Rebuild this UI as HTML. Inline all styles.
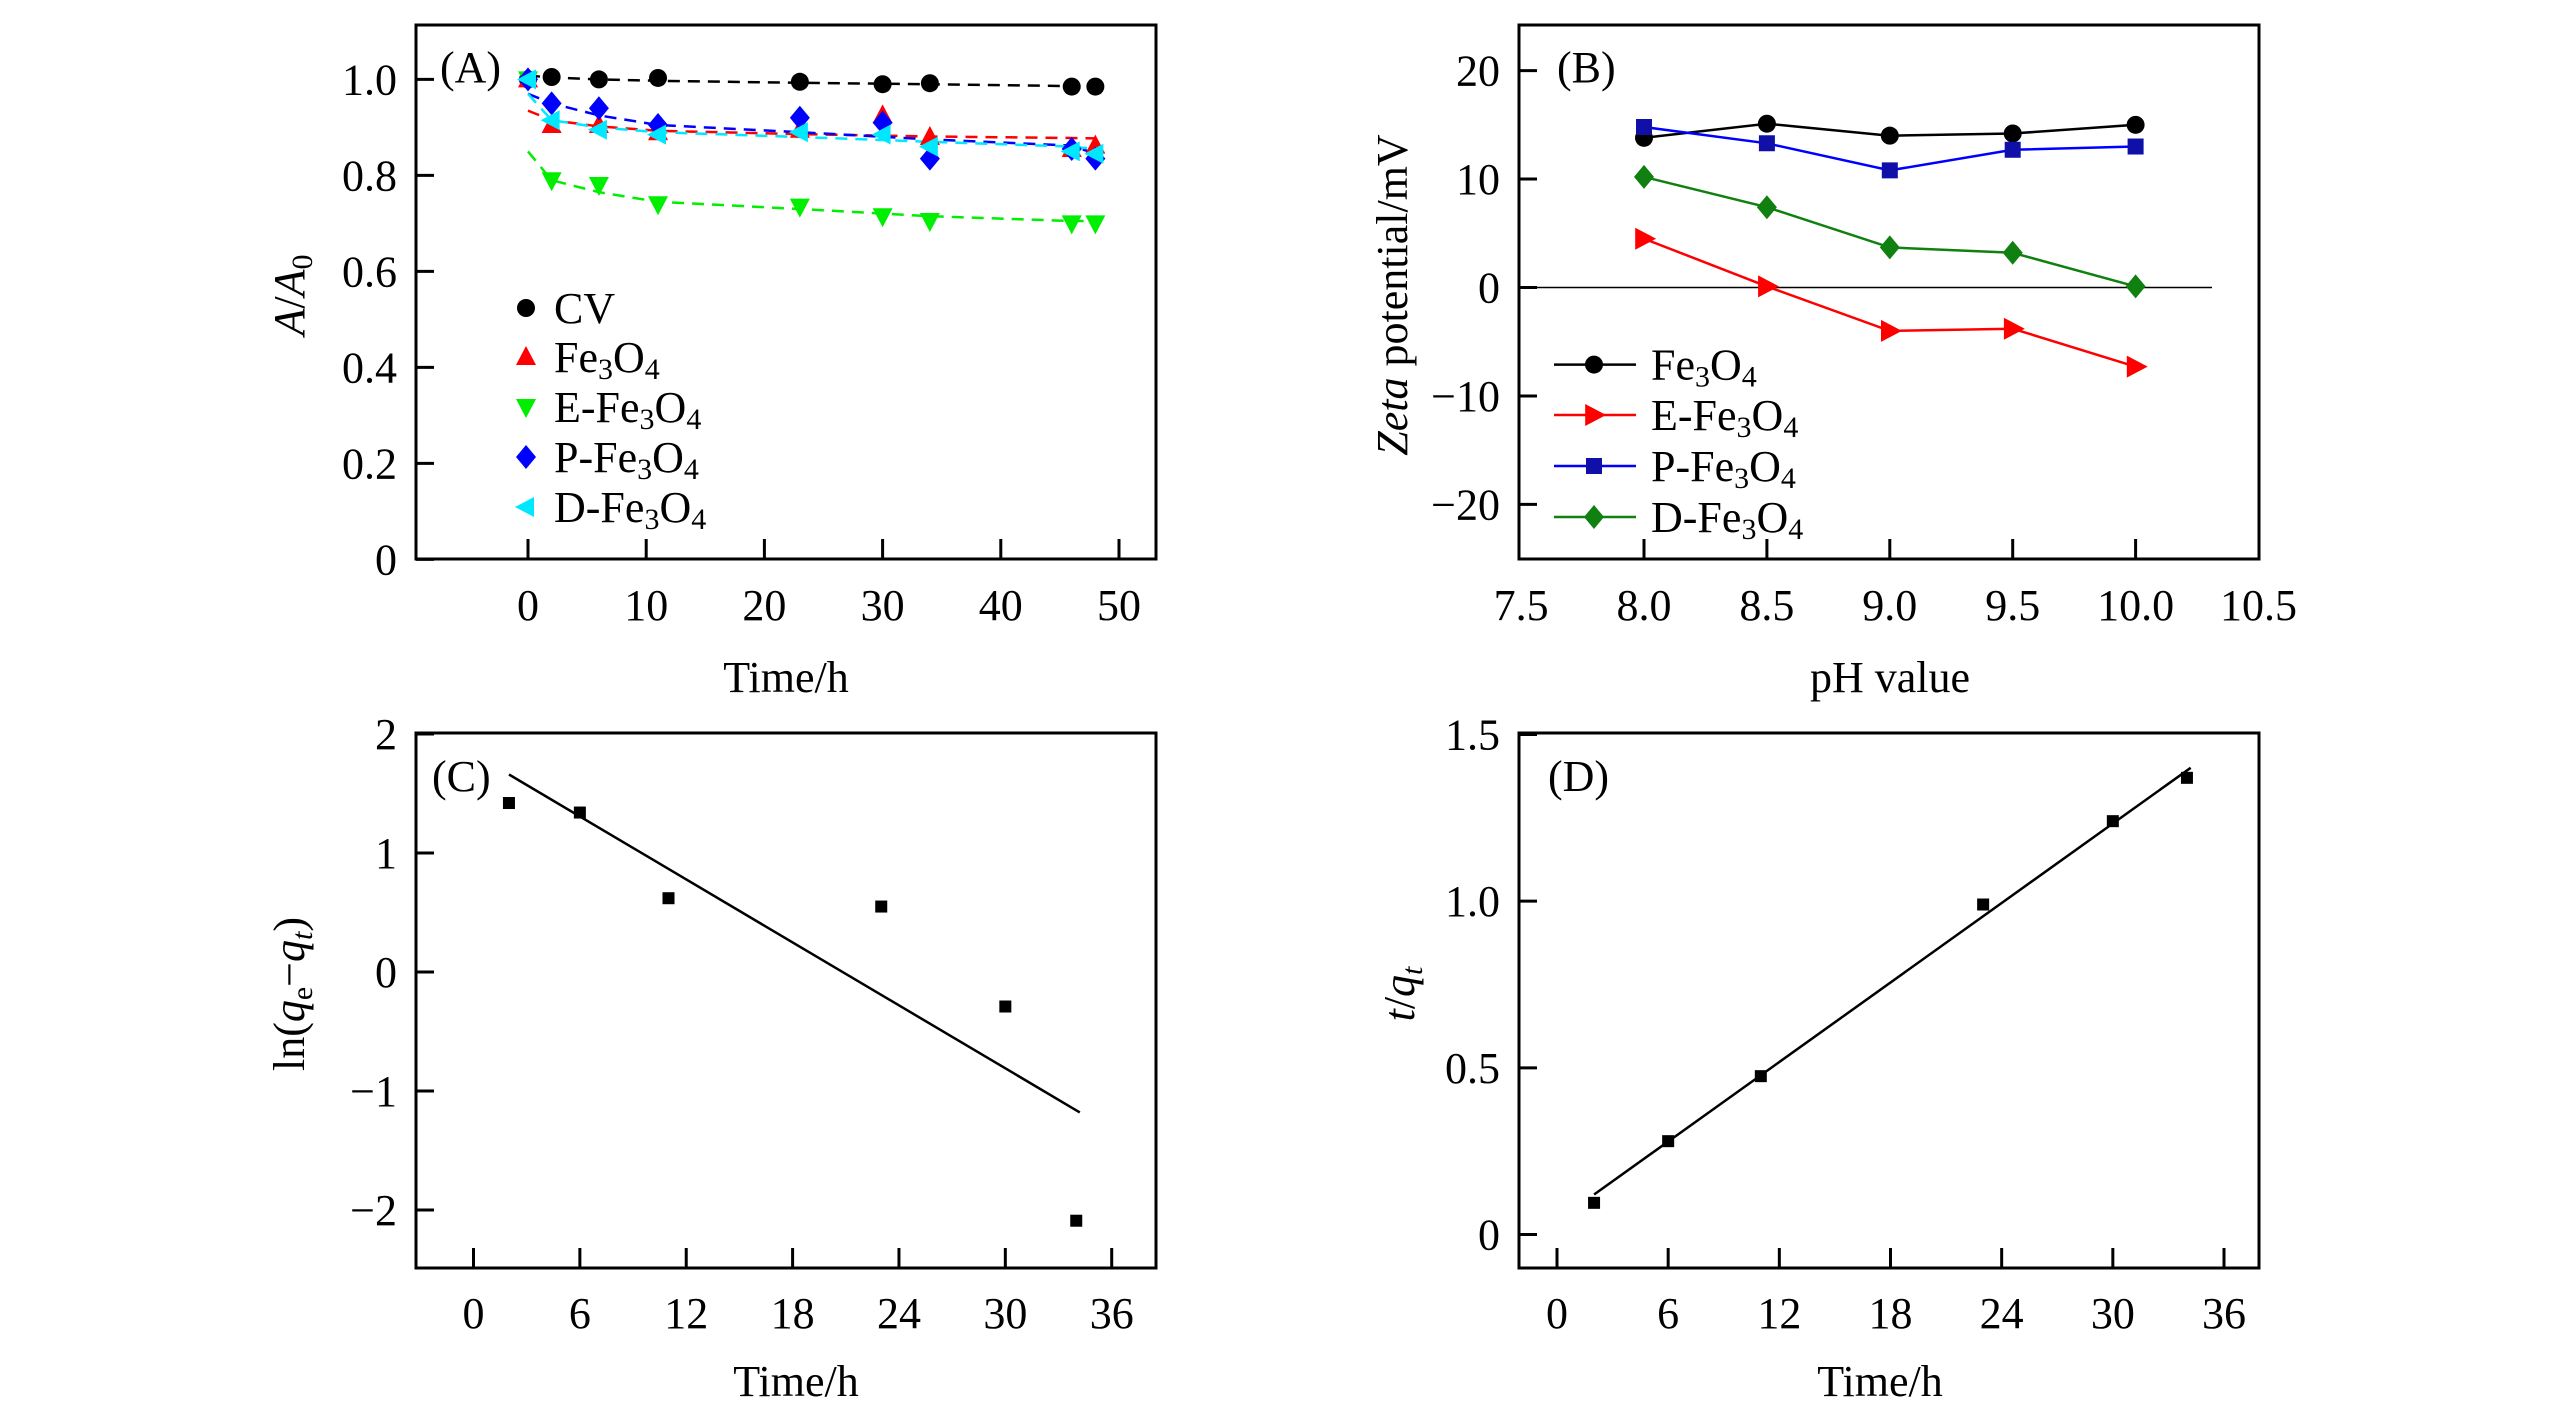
<!DOCTYPE html>
<html><head><meta charset="utf-8">
<style>
html,body{margin:0;padding:0;background:#fff;}
svg{display:block;font-family:"Liberation Serif","Times New Roman",serif;}
</style></head>
<body>
<svg id="fig" width="2567" height="1417" viewBox="0 0 2567 1417" xmlns="http://www.w3.org/2000/svg"></svg>
<script>
// ---------- Panel A data ----------
const aTime = [0, 2, 6, 11, 23, 30, 34, 46, 48];
const aCV   = [1.0, 1.005, 1.0, 1.003, 0.995, 0.99, 0.992, 0.985, 0.985];
const aFe   = [1.0, 0.905, 0.905, 0.89, 0.895, 0.925, 0.88, 0.855, 0.862];
const aE    = [1.0, 0.79, 0.78, 0.74, 0.735, 0.715, 0.705, 0.70, 0.70];
const aP    = [1.0, 0.95, 0.94, 0.905, 0.92, 0.91, 0.835, 0.855, 0.835];
const aD    = [1.0, 0.915, 0.895, 0.885, 0.89, 0.885, 0.86, 0.85, 0.845];
const aFitT   = [0, 2, 6, 11, 23, 34, 46, 48];
const aFitCV  = [1.008, 1.004, 1.0, 0.997, 0.993, 0.99, 0.986, 0.985];
const aFitFe  = [0.935, 0.915, 0.902, 0.893, 0.886, 0.881, 0.878, 0.877];
const aFitE   = [0.85, 0.79, 0.765, 0.745, 0.73, 0.715, 0.705, 0.705];
const aFitP   = [0.97, 0.95, 0.925, 0.905, 0.89, 0.875, 0.862, 0.845];
const aFitD   = [0.97, 0.915, 0.9, 0.89, 0.88, 0.87, 0.86, 0.855];
const aXTicks = [0, 10, 20, 30, 40, 50];
const aYTicks = [0, 0.2, 0.4, 0.6, 0.8, 1.0];
const aYLabels = ["0", "0.2", "0.4", "0.6", "0.8", "1.0"];
// ---------- Panel B data ----------
const bPH  = [8.0, 8.5, 9.0, 9.5, 10.0];
const bFe  = [13.8, 15.1, 14.0, 14.2, 15.0];
const bE   = [4.5, 0.1, -4.0, -3.8, -7.3];
const bP   = [14.8, 13.3, 10.8, 12.7, 13.0];
const bD   = [10.2, 7.4, 3.7, 3.2, 0.1];
const bXTicks = [8.0, 8.5, 9.0, 9.5, 10.0];
const bXLabels = ["7.5", "8.0", "8.5", "9.0", "9.5", "10.0", "10.5"];
const bXLabelVals = [7.5, 8.0, 8.5, 9.0, 9.5, 10.0, 10.5];
const bYTicks = [-20, -10, 0, 10, 20];
const bYLabels = ["\u221220", "\u221210", "0", "10", "20"];
// ---------- Panel C data ----------
const cTime = [2, 6, 11, 23, 30, 34];
const cVal  = [1.42, 1.34, 0.62, 0.55, -0.29, -2.09];
const cFitT = [2, 34.2];
const cFitV = [1.66, -1.18];
const cXTicks = [0, 6, 12, 18, 24, 30, 36];
const cYTicks = [-2, -1, 0, 1, 2];
const cYLabels = ["\u22122", "\u22121", "0", "1", "2"];
// ---------- Panel D data ----------
const dTime = [2, 6, 11, 23, 30, 34];
const dVal  = [0.095, 0.28, 0.475, 0.99, 1.24, 1.37];
const dFitT = [2, 34.2];
const dFitV = [0.12, 1.40];
const dXTicks = [0, 6, 12, 18, 24, 30, 36];
const dYTicks = [0, 0.5, 1.0, 1.5];
const dYLabels = ["0", "0.5", "1.0", "1.5"];

const NS = "http://www.w3.org/2000/svg";
const svg = document.getElementById("fig");
function el(tag, attrs, parent, text){
  const e = document.createElementNS(NS, tag);
  for (const k in attrs) e.setAttribute(k, attrs[k]);
  if (text !== undefined) e.textContent = text;
  (parent || svg).appendChild(e);
  return e;
}
function lin(d0, d1, r0, r1){ return v => r0 + (v - d0) * (r1 - r0) / (d1 - d0); }

function frame(g, x0, y0, x1, y1){
  const r = el("rect", {x:x0, y:y0, width:x1-x0, height:y1-y0, fill:"none", stroke:"#000", "stroke-width":3}, g);
  
  
}
function xAxis(g, ticks, labels, labelVals, X, yb, drawTicks, labelY){
  ticks.forEach(t => {
    const l = el("line", {x1:X(t), x2:X(t), y1:yb, y2:yb-20, stroke:"#000", "stroke-width":3}, g);
    
    
  });
  labelVals.forEach((v, i) => {
    const t = el("text", {x:X(v), y:labelY, "font-size":44, "text-anchor":"middle"}, g, labels[i]);
    
    
  });
}
function yAxis(g, ticks, labels, Y, xl, labelX){
  ticks.forEach((t, i) => {
    const l = el("line", {x1:xl, x2:xl+18, y1:Y(t), y2:Y(t), stroke:"#000", "stroke-width":3}, g);
    
    
    const tx = el("text", {x:labelX, y:Y(t)+15, "font-size":44, "text-anchor":"end"}, g, labels[i]);
    
    
  });
}
function pathD(xs, ys, X, Y){ return xs.map((x,i)=>(i?"L":"M")+X(x).toFixed(1)+","+Y(ys[i]).toFixed(1)).join(""); }
function marker(g, type, cx, cy, color, s){
  let e;
  if (type==="circle") e = el("circle", {cx, cy, r:s, fill:color}, g);
  else if (type==="square") e = el("rect", {x:cx-s, y:cy-s, width:2*s, height:2*s, fill:color}, g);
  else if (type==="up") e = el("polygon", {points:`${cx},${cy-s*1.1} ${cx-s},${cy+s*0.8} ${cx+s},${cy+s*0.8}`, fill:color}, g);
  else if (type==="down") e = el("polygon", {points:`${cx},${cy+s*1.1} ${cx-s},${cy-s*0.8} ${cx+s},${cy-s*0.8}`, fill:color}, g);
  else if (type==="diamond") e = el("polygon", {points:`${cx},${cy-s*1.2} ${cx+s},${cy} ${cx},${cy+s*1.2} ${cx-s},${cy}`, fill:color}, g);
  else if (type==="left") e = el("polygon", {points:`${cx-s*1.1},${cy} ${cx+s*0.8},${cy-s} ${cx+s*0.8},${cy+s}`, fill:color}, g);
  else if (type==="right") e = el("polygon", {points:`${cx+s*1.1},${cy} ${cx-s*0.8},${cy-s} ${cx-s*0.8},${cy+s}`, fill:color}, g);
  return e;
}
function feText(g, x, y, prefix, name){
  const t = el("text", {x, y, "font-size":44}, g);
  
  
  el("tspan", {}, t, prefix + "Fe");
  el("tspan", {"font-size":30, dy:7}, t, "3");
  el("tspan", {dy:-7}, t, "O");
  el("tspan", {"font-size":30, dy:7}, t, "4");
  return t;
}

// ================= Panel A =================
{
  const g = el("g", {});
  
  
  const X = lin(0, 50, 528, 1119), Y = lin(0, 1.0, 559.4, 79.4);
  frame(g, 416, 25, 1156, 559);
  xAxis(g, aXTicks, aXTicks.map(String), aXTicks, X, 559, true, 620);
  yAxis(g, aYTicks, aYLabels, Y, 416, 397);
  const xt = el("text", {x:786, y:692, "font-size":44, "text-anchor":"middle"}, g, "Time/h");
  
  
  const yt = el("text", {x:0, y:0, "font-size":44, "text-anchor":"middle", transform:"translate(304,295) rotate(-90)"}, g);
  
  
  el("tspan", {"font-style":"italic"}, yt, "A");
  el("tspan", {}, yt, "/");
  el("tspan", {"font-style":"italic"}, yt, "A");
  el("tspan", {"font-size":30, dy:8}, yt, "0");
  const lab = el("text", {x:440, y:82, "font-size":44}, g, "(A)");
  
  
  const series = [
    {name:"cv", v:aCV, fit:aFitCV, c:"#000", m:"circle", s:9},
    {name:"fe3o4", v:aFe, fit:aFitFe, c:"#ff0000", m:"up", s:10},
    {name:"e-fe3o4", v:aE, fit:aFitE, c:"#00ee00", m:"down", s:10},
    {name:"p-fe3o4", v:aP, fit:aFitP, c:"#0000ff", m:"diamond", s:10},
    {name:"d-fe3o4", v:aD, fit:aFitD, c:"#00e8ff", m:"left", s:10}
  ];
  series.forEach(sr => {
    const p = el("path", {d:pathD(aFitT, sr.fit, X, Y), fill:"none", stroke:sr.c, "stroke-width":2.5, "stroke-dasharray":"12 8"}, g);
    
    
  });
  series.forEach(sr => {
    aTime.forEach((t, i) => {
      const m = marker(g, sr.m, X(t), Y(sr.v[i]), sr.c, sr.s);
      
      
    });
  });
  const rows = [308, 357, 407, 457, 507];
  const pref = ["", "", "E-", "P-", "D-"];
  series.forEach((sr, i) => {
    const m = marker(g, sr.m, 526, rows[i], sr.c, sr.s);
    
    
    if (i === 0) {
      const t = el("text", {x:554, y:rows[i]+15, "font-size":44}, g, "CV");
      
      
    } else feText(g, 554, rows[i]+15, pref[i], 'legend-entry');
  });
}

// ================= Panel B =================
{
  const g = el("g", {});
  
  
  const X = lin(8.0, 10.0, 1644, 2135.6), Y = lin(0, 20, 287.5, 70.6);
  frame(g, 1519, 25, 2259, 559);
  xAxis(g, bXTicks, bXLabels, bXLabelVals, X, 559, true, 620);
  yAxis(g, bYTicks, bYLabels, Y, 1519, 1500);
  const zl = el("line", {x1:1537, x2:2212, y1:Y(0), y2:Y(0), stroke:"#000", "stroke-width":1.5}, g);
  
  
  const xt = el("text", {x:1890, y:692, "font-size":44, "text-anchor":"middle"}, g, "pH value");
  
  
  const yt = el("text", {x:0, y:0, "font-size":44, "text-anchor":"middle", transform:"translate(1407,295) rotate(-90)"}, g);
  
  
  el("tspan", {"font-style":"italic"}, yt, "Zeta");
  el("tspan", {}, yt, " potential/mV");
  const lab = el("text", {x:1557, y:82, "font-size":44}, g, "(B)");
  
  
  const series = [
    {name:"fe3o4", v:bFe, c:"#000", m:"circle", s:9, lc:"#000"},
    {name:"e-fe3o4", v:bE, c:"#ff0000", m:"right", s:11, lc:"#ff0000"},
    {name:"p-fe3o4", v:bP, c:"#1010a8", m:"square", s:8, lc:"#0000ff"},
    {name:"d-fe3o4", v:bD, c:"#108010", m:"diamond", s:10, lc:"#108010"}
  ];
  series.forEach(sr => {
    const p = el("path", {d:pathD(bPH, sr.v, X, Y), fill:"none", stroke:sr.lc, "stroke-width":2.5}, g);
    
    
    bPH.forEach((x, i) => {
      const m = marker(g, sr.m, X(x), Y(sr.v[i]), sr.c, sr.s);
      
      
    });
  });
  const rows = [364.6, 415, 466, 517];
  const pref = ["", "E-", "P-", "D-"];
  series.forEach((sr, i) => {
    const l = el("line", {x1:1554, x2:1636, y1:rows[i], y2:rows[i], stroke:sr.lc, "stroke-width":2.5}, g);
    
    
    const m = marker(g, sr.m, 1594, rows[i], sr.c, sr.s);
    
    
    feText(g, 1651, rows[i]+15, pref[i], 'legend-entry');
  });
}

// ================= Panel C =================
{
  const g = el("g", {});
  
  
  const X = lin(0, 36, 473.5, 1111.7), Y = lin(0, 1, 972, 853);
  frame(g, 416, 733, 1156, 1268);
  xAxis(g, cXTicks, cXTicks.map(String), cXTicks, X, 1268, true, 1328);
  yAxis(g, cYTicks, cYLabels, Y, 416, 397);
  const xt = el("text", {x:796, y:1396, "font-size":44, "text-anchor":"middle"}, g, "Time/h");
  
  
  const yt = el("text", {x:0, y:0, "font-size":44, "text-anchor":"middle", transform:"translate(304,994) rotate(-90)"}, g);
  
  
  el("tspan", {}, yt, "ln(");
  el("tspan", {"font-style":"italic"}, yt, "q");
  el("tspan", {"font-size":30, dy:8}, yt, "e");
  el("tspan", {dy:-8}, yt, "\u2212");
  el("tspan", {"font-style":"italic"}, yt, "q");
  el("tspan", {"font-size":30, dy:8, "font-style":"italic"}, yt, "t");
  el("tspan", {dy:-8}, yt, ")");
  const lab = el("text", {x:432, y:791, "font-size":44}, g, "(C)");
  
  
  const p = el("path", {d:pathD(cFitT, cFitV, X, Y), fill:"none", stroke:"#000", "stroke-width":2.5}, g);
  
  
  cTime.forEach((t, i) => {
    const m = marker(g, "square", X(t), Y(cVal[i]), "#000", 6);
    
    
  });
}

// ================= Panel D =================
{
  const g = el("g", {});
  
  
  const X = lin(0, 36, 1557, 2224), Y = lin(0, 1.5, 1234.5, 734.5);
  frame(g, 1519, 733, 2259, 1268);
  xAxis(g, dXTicks, dXTicks.map(String), dXTicks, X, 1268, true, 1328);
  yAxis(g, dYTicks, dYLabels, Y, 1519, 1500);
  const xt = el("text", {x:1880, y:1396, "font-size":44, "text-anchor":"middle"}, g, "Time/h");
  
  
  const yt = el("text", {x:0, y:0, "font-size":44, "text-anchor":"middle", transform:"translate(1414,994) rotate(-90)"}, g);
  
  
  el("tspan", {"font-style":"italic"}, yt, "t");
  el("tspan", {}, yt, "/");
  el("tspan", {"font-style":"italic"}, yt, "q");
  el("tspan", {"font-size":30, dy:8, "font-style":"italic"}, yt, "t");
  const lab = el("text", {x:1548, y:791, "font-size":44}, g, "(D)");
  
  
  const p = el("path", {d:pathD(dFitT, dFitV, X, Y), fill:"none", stroke:"#000", "stroke-width":2.5}, g);
  
  
  dTime.forEach((t, i) => {
    const m = marker(g, "square", X(t), Y(dVal[i]), "#000", 6);
    
    
  });
}
</script>
</body></html>
